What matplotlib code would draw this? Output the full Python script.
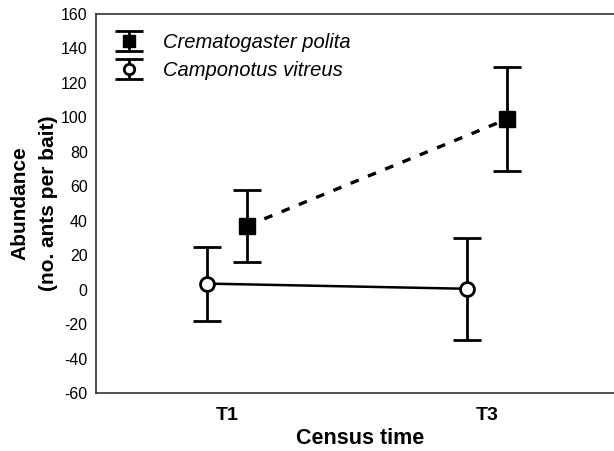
import matplotlib
matplotlib.use("Agg")
import matplotlib.pyplot as plt

plt.rcParams["font.family"] = ["Liberation Sans", "DejaVu Sans"]
plt.rcParams["axes.unicode_minus"] = False

# data
census = ["T1", "T3"]
crem_mean = [37, 99]
crem_err = [21, 30]
camp_mean = [3.5, 0.5]
camp_err = [21.5, 29.5]

fig = plt.figure(figsize=(6.14, 4.51), dpi=100)
ax = fig.add_axes([0.1564, 0.1286, 0.86, 0.8404])

pos = list(range(len(census)))
off = 0.077
crem_x = [p + off for p in pos]
camp_x = [p - off for p in pos]

# connecting lines
ax.plot(crem_x, crem_mean, color="black", lw=2.4, linestyle=(0, (2.6, 3.0)), zorder=2)
ax.plot(camp_x, camp_mean, color="black", lw=1.8, zorder=2)

# points with error bars
ax.errorbar(crem_x, crem_mean, yerr=crem_err,
            fmt="s", color="black", mfc="black", mec="black", ms=11.5,
            ecolor="black", elinewidth=2, capsize=10, capthick=2,
            label="Crematogaster polita", zorder=3)
ax.errorbar(camp_x, camp_mean, yerr=camp_err,
            fmt="o", color="black", mfc="white", mec="black", ms=10, mew=2,
            ecolor="black", elinewidth=2, capsize=10, capthick=2,
            label="Camponotus vitreus", zorder=3)

ax.set_xlim(-0.504, 1.527)
ax.set_ylim(-60, 160)
ax.set_yticks(range(-60, 161, 20))
ax.set_xticks(pos)
ax.set_xticklabels(census, fontsize=14, fontweight="bold")
ax.tick_params(axis="y", length=0, pad=6, labelsize=11.5)
ax.tick_params(axis="x", length=0, pad=10)

ax.spines["right"].set_visible(False)
for s in ["left", "top", "bottom"]:
    ax.spines[s].set_linewidth(1.2)
    ax.spines[s].set_color("#333333")

ax.set_ylabel("Abundance\n(no. ants per bait)", fontsize=15, fontweight="bold",
              linespacing=1.65)
ax.yaxis.set_label_coords(-0.072, 0.5)
ax.set_xlabel("Census time", fontsize=15.5, fontweight="bold", labelpad=3)

leg = ax.legend(loc="upper left", frameon=False,
                prop={"style": "italic", "size": 14.5},
                handlelength=1.4, handletextpad=1.0, borderaxespad=0.55,
                labelspacing=0.45, markerscale=0.75,
                bbox_to_anchor=(0.0, 1.0))

plt.savefig("out.png", dpi=100)
plt.close()
